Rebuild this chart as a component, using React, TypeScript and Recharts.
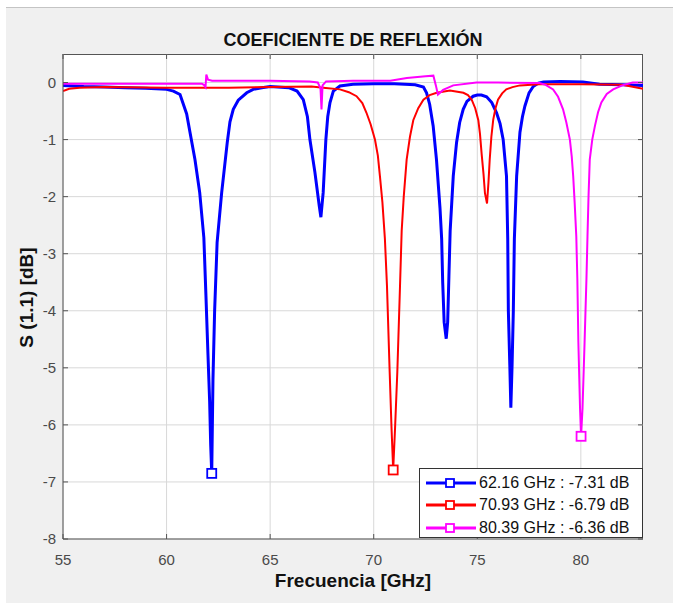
import { CartesianGrid, Legend, Line, LineChart, XAxis, YAxis } from "recharts";

const xTicks = [55, 60, 65, 70, 75, 80];
const yTicks = [-8, -7, -6, -5, -4, -3, -2, -1, 0];
const xDomain = [55, 83];
const yDomain = [-8, 0.5];

// blue trace (GHz / dB)
const blueFreq = [
  55, 56, 57, 58, 59, 60, 60.33, 60.65, 60.97, 61.13, 61.37, 61.6, 61.8, 61.9, 62.0, 62.08, 62.13, 62.18, 62.24,
  62.32, 62.44, 62.66, 62.93, 63.06, 63.22, 63.46, 63.87, 64.18, 64.6, 65, 65.9, 66.3, 66.6, 66.8, 66.92, 67.16,
  67.37, 67.45, 67.56, 67.69, 67.78, 67.89, 68.05, 68.37, 69, 70, 71, 72, 72.4, 72.55, 72.7, 72.87, 73.03, 73.2,
  73.28, 73.33, 73.4, 73.5, 73.57, 73.63, 73.69, 73.84, 74.0, 74.15, 74.32, 74.5, 74.8, 75.0, 75.2, 75.45, 75.7,
  75.93, 76.1, 76.25, 76.41, 76.47, 76.5, 76.57, 76.62, 76.68, 76.74, 76.79, 76.9, 77.06, 77.18, 77.3, 77.5, 77.7,
  77.95, 78.2, 79, 80.1, 80.9, 82, 83,
];
const blueDb = [
  -0.05, -0.07, -0.08, -0.09, -0.1, -0.12, -0.15, -0.21, -0.55, -0.87, -1.35, -1.93, -2.72, -3.73, -4.78, -5.6,
  -6.35, -6.85, -5.2, -4.0, -2.8, -1.93, -1.05, -0.69, -0.47, -0.31, -0.18, -0.12, -0.09, -0.07, -0.09, -0.15, -0.3,
  -0.6, -1.0, -1.57, -2.16, -2.36, -1.93, -1.0, -0.6, -0.35, -0.15, -0.06, -0.03, -0.02, -0.02, -0.04, -0.08, -0.18,
  -0.38, -0.76, -1.35, -2.2, -2.74, -3.5, -4.2, -4.49, -4.2, -3.4, -2.6, -1.64, -1.05, -0.7, -0.47, -0.33, -0.24,
  -0.22, -0.22, -0.25, -0.35, -0.53, -0.72, -1.0, -1.64, -2.74, -4.0, -4.95, -5.7, -4.95, -4.0, -2.74, -1.64, -0.87,
  -0.6, -0.41, -0.18, -0.07, -0.01, 0.01, 0.02, 0.01, -0.03, -0.04, -0.05,
];

// red trace
const redFreq = [
  55, 55.3, 55.8, 57, 60, 63, 65, 67, 67.56, 68.37, 68.8, 69.17, 69.45, 69.65, 69.85, 70.06, 70.2, 70.3, 70.42,
  70.54, 70.64, 70.77, 70.86, 70.94, 71.03, 71.14, 71.27, 71.35, 71.45, 71.59, 71.75, 71.91, 72.15, 72.4, 72.7,
  73.04, 73.68, 74.33, 74.55, 74.73, 74.9, 75.05, 75.13, 75.21, 75.3, 75.37, 75.47, 75.54, 75.6, 75.68, 75.77,
  75.88, 76.0, 76.2, 76.4, 76.7, 77.06, 78, 80, 82, 83,
];
const redDb = [
  -0.15, -0.11, -0.09, -0.08, -0.09, -0.09, -0.08, -0.07, -0.09, -0.12, -0.17, -0.24, -0.36, -0.53, -0.73, -1.0,
  -1.28, -1.64, -2.1, -2.74, -3.56, -5.07, -6.06, -6.79, -6.06, -5.07, -3.56, -2.6, -2.0, -1.35, -0.95, -0.66, -0.45,
  -0.3, -0.22, -0.18, -0.14, -0.18, -0.22, -0.3, -0.45, -0.66, -0.9, -1.25, -1.6, -1.94, -2.12, -1.75, -1.35, -0.95,
  -0.65, -0.45, -0.3, -0.19, -0.12, -0.08, -0.05, -0.03, -0.03, -0.04, -0.11,
];

// magenta trace
const magentaFreq = [
  55, 58, 61.7, 61.8, 61.88, 61.92, 62.0, 62.2, 63, 65, 66.9, 67.3, 67.43, 67.48, 67.53, 67.7, 69, 70, 70.8, 71.6,
  72.5, 72.88, 73.0, 73.1, 73.35, 73.84, 74.96, 76, 78, 78.3, 78.66, 78.9, 79.14, 79.3, 79.47, 79.56, 79.63, 79.7,
  79.78, 79.83, 79.88, 79.96, 80.01, 80.08, 80.18, 80.27, 80.32, 80.37, 80.43, 80.55, 80.68, 80.83, 80.99, 81.25,
  81.56, 82, 82.5, 83,
];
const magentaDb = [
  -0.02, -0.02, -0.02, -0.04, -0.08, 0.14, 0.05, 0.03, 0.03, 0.03, 0.02, 0.0, -0.1, -0.47, -0.05, 0.02, 0.03, 0.03,
  0.03, 0.08, 0.11, 0.12, -0.05, -0.21, -0.13, -0.05, 0.0, 0.0, -0.01, -0.04, -0.12, -0.25, -0.47, -0.7, -1.0, -1.3,
  -1.64, -2.1, -2.7, -3.44, -4.55, -5.71, -6.2, -5.71, -4.55, -3.44, -2.7, -2.0, -1.35, -1.0, -0.76, -0.52, -0.35,
  -0.2, -0.12, -0.05, 0.0, 0.0,
];

const legendLabels = ["62.16 GHz : -7.31 dB", "70.93 GHz : -6.79 dB", "80.39 GHz : -6.36 dB"];
const seriesColors = ["#0000ff", "#ff0000", "#ff00ff"];
const seriesWidths = [3, 2, 2];

const FONT = '"Liberation Sans", Arial, Helvetica, sans-serif';
const AXIS = "#555";
const GRID = "#d8d8d8";

// plot box: 673x603 chart, margins give a 580x485 axes area at (63, 54)
const PLOT_W = 580;
const PLOT_H = 485;
const X_TICK_MARGIN = 15;
const Y_TICK_MARGIN = 7;
const TICK_LEN = 5;

const toPoints = (freq: number[], db: number[]) => freq.map((f, i) => ({ f, s: db[i] }));

const series = [
  { name: "blue", data: toPoints(blueFreq, blueDb), min: blueDb.indexOf(Math.min(...blueDb)) },
  { name: "red", data: toPoints(redFreq, redDb), min: redDb.indexOf(Math.min(...redDb)) },
  { name: "magenta", data: toPoints(magentaFreq, magentaDb), min: magentaDb.indexOf(Math.min(...magentaDb)) },
];

// square marker only at the minimum of each trace
const markerDot = (minIndex: number, color: string) => (props: any) => {
  const { cx, cy, index } = props;
  if (index !== minIndex) return <g key={`d${index}`} />;
  return (
    <rect key={`d${index}`} x={cx - 4.5} y={cy - 4.5} width={9} height={9} fill="#fff" stroke={color} strokeWidth={1.8} />
  );
};

// x tick: inward ticks on bottom and top edges, label
const XTick = (props: any) => {
  const { x, y, payload } = props;
  const axisY = y - X_TICK_MARGIN;
  return (
    <g>
      <line x1={x} x2={x} y1={axisY} y2={axisY - TICK_LEN} stroke={AXIS} />
      <line x1={x} x2={x} y1={axisY - PLOT_H} y2={axisY - PLOT_H + TICK_LEN} stroke={AXIS} />
      <text x={x} y={y} dy="0.71em" textAnchor="middle" fill="#4a4a4a" fontSize={15} fontFamily={FONT}>
        {payload.value}
      </text>
    </g>
  );
};

// y tick: inward ticks on left and right edges, label
const YTick = (props: any) => {
  const { x, y, payload } = props;
  const axisX = x + Y_TICK_MARGIN;
  return (
    <g>
      <line x1={axisX} x2={axisX + TICK_LEN} y1={y} y2={y} stroke={AXIS} />
      <line x1={axisX + PLOT_W} x2={axisX + PLOT_W - TICK_LEN} y1={y} y2={y} stroke={AXIS} />
      <text x={x} y={y} dy="0.355em" textAnchor="end" fill="#4a4a4a" fontSize={15} fontFamily={FONT}>
        {payload.value}
      </text>
    </g>
  );
};

function LegendBox() {
  return (
    <div
      style={{
        width: 224,
        height: 70,
        boxSizing: "border-box",
        border: "1px solid #333",
        background: "#fff",
        paddingTop: 3,
        fontFamily: FONT,
        fontSize: 16,
        color: "#111",
      }}
    >
      {legendLabels.map((label, i) => (
        <div key={label} style={{ height: 22.3, display: "flex", alignItems: "center" }}>
          <svg width={59} height={14} style={{ flex: "none" }}>
            <line x1={6} y1={7} x2={56} y2={7} stroke={seriesColors[i]} strokeWidth={3} />
            <rect x={26} y={3} width={8} height={8} fill="#fff" stroke={seriesColors[i]} strokeWidth={1.8} />
          </svg>
          <span style={{ whiteSpace: "nowrap" }}>{label}</span>
        </div>
      ))}
    </div>
  );
}

export default function App() {
  return (
    <div style={{ position: "absolute", left: 0, top: 0, width: 673, height: 603, background: "#fff" }}>
      <div
        style={{
          position: "absolute",
          left: 6,
          top: 7,
          right: 0,
          bottom: 0,
          background: "#f0f0f0",
          borderTop: "1px solid #c4c4c4",
        }}
      />
      {/* white axes panel with the top and right box edges, behind the svg */}
      <div
        style={{
          position: "absolute",
          left: 63,
          top: 54,
          width: PLOT_W,
          height: PLOT_H,
          boxSizing: "border-box",
          background: "#fff",
          borderTop: `1px solid ${AXIS}`,
          borderRight: `1px solid ${AXIS}`,
        }}
      />
      <div style={{ position: "absolute", left: 0, top: 0 }}>
        <LineChart width={673} height={603} margin={{ top: 54, right: 30, bottom: 34, left: 23 }}>
          <CartesianGrid stroke={GRID} syncWithTicks />
          <XAxis
            dataKey="f"
            type="number"
            domain={xDomain}
            ticks={xTicks}
            allowDataOverflow
            height={30}
            tickSize={0}
            tickLine={false}
            tickMargin={X_TICK_MARGIN}
            tick={XTick}
            stroke={AXIS}
          />
          <YAxis
            type="number"
            domain={yDomain}
            ticks={yTicks}
            allowDataOverflow
            width={40}
            tickSize={0}
            tickLine={false}
            tickMargin={Y_TICK_MARGIN}
            tick={YTick}
            stroke={AXIS}
          />
          {series.map((s, i) => (
            <Line
              key={s.name}
              data={s.data}
              dataKey="s"
              type="linear"
              stroke={seriesColors[i]}
              strokeWidth={seriesWidths[i]}
              dot={markerDot(s.min, seriesColors[i])}
              activeDot={false}
              isAnimationActive={false}
            />
          ))}
          <Legend
            layout="vertical"
            align="center"
            verticalAlign="middle"
            content={() => <LegendBox />}
            wrapperStyle={{ left: 419, top: 468, width: 224, height: 70 }}
          />
        </LineChart>
      </div>
      <div
        style={{
          position: "absolute",
          left: 63,
          width: PLOT_W,
          top: 31,
          textAlign: "center",
          fontFamily: FONT,
          fontWeight: "bold",
          fontSize: 18,
          lineHeight: "18px",
          color: "#111",
        }}
      >
        COEFICIENTE DE REFLEXIÓN
      </div>
      <div
        style={{
          position: "absolute",
          left: 63,
          width: PLOT_W,
          top: 571,
          textAlign: "center",
          fontFamily: FONT,
          fontWeight: "bold",
          fontSize: 19,
          lineHeight: "19px",
          color: "#111",
        }}
      >
        Frecuencia [GHz]
      </div>
      <div
        style={{
          position: "absolute",
          left: 26 - 100,
          top: 297 - 9.5,
          width: 200,
          textAlign: "center",
          transform: "rotate(-90deg)",
          fontFamily: FONT,
          fontWeight: "bold",
          fontSize: 19,
          lineHeight: "19px",
          color: "#111",
        }}
      >
        S (1.1) [dB]
      </div>
    </div>
  );
}
